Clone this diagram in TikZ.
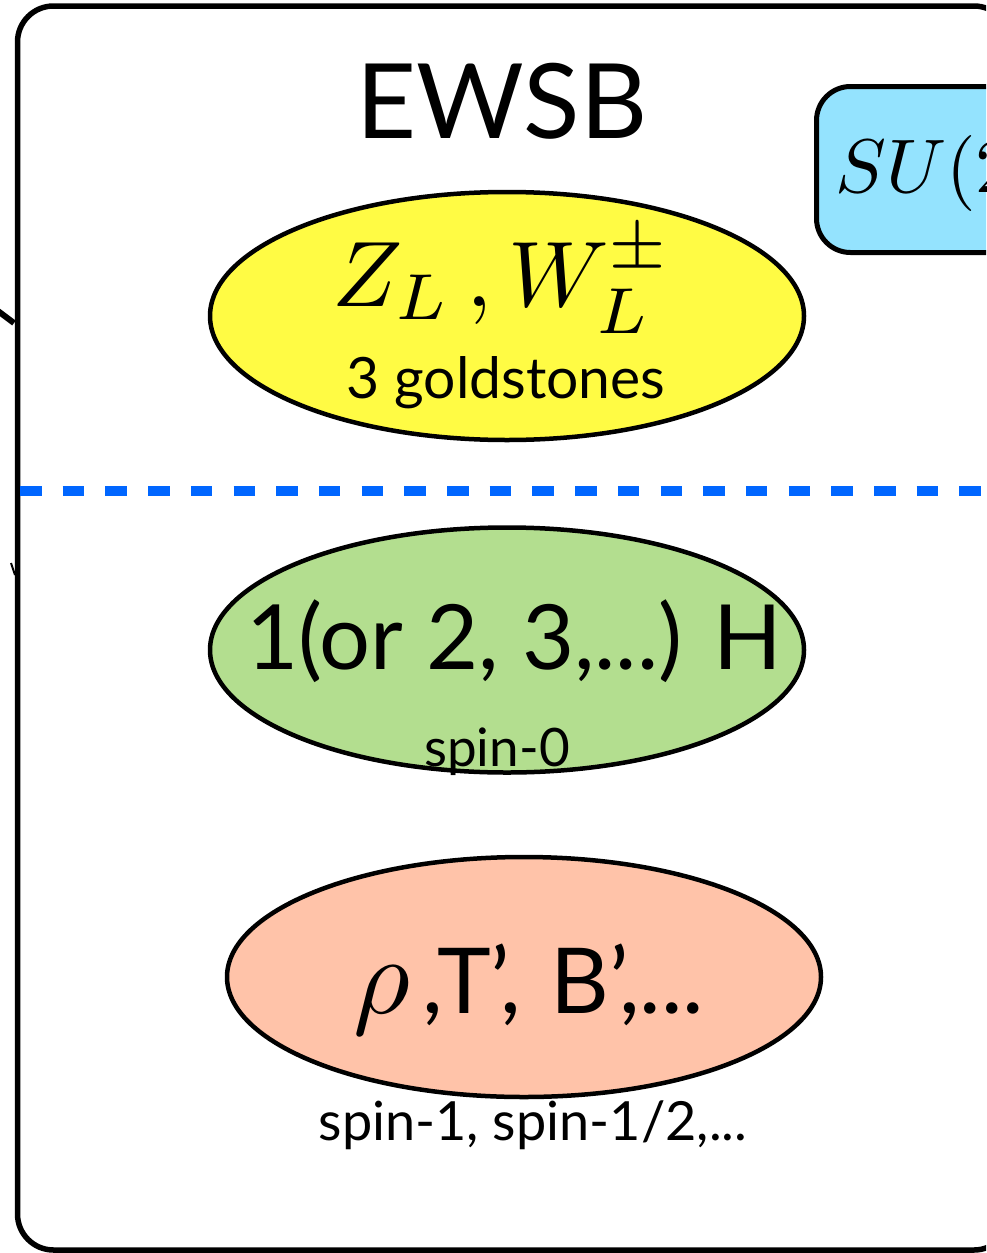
\documentclass[tikz,border=0pt]{standalone}
\usepackage{graphicx}
\usepackage{fontspec}
\setmainfont{Lato}
\usetikzlibrary{shapes.geometric}
\definecolor{ewyellow}{HTML}{FFFB44}
\definecolor{ewgreen}{HTML}{B3DE8F}
\definecolor{ewsalmon}{HTML}{FFC3A9}
\definecolor{ewcyan}{HTML}{94E3FE}
\definecolor{ewblue}{HTML}{0066FF}
\tikzset{
  blob/.style={ellipse, draw=black, line width=4.5pt, inner sep=0pt},
  symbox/.style={draw=black, line width=5pt, fill=ewcyan, rounded corners=34pt, inner sep=0pt},
  frame/.style={draw=black, line width=5.5pt, rounded corners=36pt},
  sep/.style={draw=ewblue, line width=10pt, dash pattern=on 21.5pt off 21.2pt},
  txt/.style={inner sep=0pt, anchor=base}
}
\begin{document}
\begin{tikzpicture}[x=1pt,y=-1pt]
\useasboundingbox (0,0) rectangle (986,1253);
\clip (0,0) rectangle (986,1253);
% outer frame
\path[frame] (17.5,6) rectangle (1010,1250);
% fragments of outside connectors
\draw[line width=6pt] (-10,305) -- (14,323);
\draw[line width=2pt] (11,563) -- (15,575);
% symmetry box (cut off)
\node (sym) [symbox, anchor=north west, minimum width=400pt, minimum height=166pt] at (814,84) {};
\node (symtxt) [inner sep=0pt, anchor=base west] at (835,192) {\scalebox{7.6}{$SU(2)_L\times U(1)_Y$}};
% title
\node (title) [txt] at (502,138) {\fontsize{104}{110}\selectfont EWSB};
% goldstones
\node (gold) [blob, fill=ewyellow, minimum width=594pt, minimum height=248pt] at (507,316) {};
\node (goldmath) [txt] at (502,306) {\scalebox{9.3}{$Z_L\,,W_L^{\pm}$}};
\node (goldlbl) [txt] at (506,398) {\fontsize{57}{60}\selectfont 3 goldstones};
% separator
\path[sep] (20,491) -- (1000,491);
% higgs
\node (higgs) [blob, fill=ewgreen, minimum width=594pt, minimum height=245pt] at (507,650) {};
\node (higgslbl) [txt] at (514,669) {\fontsize{90}{90}\selectfont 1(or 2, 3,...) H};
\node (higgsspin) [txt] at (497,766) {\fontsize{53}{56}\selectfont spin-0};
% resonances
\node (res) [blob, fill=ewsalmon, minimum width=594pt, minimum height=240pt] at (524,977) {};
\node (reslbl) [txt] at (529,1013) {\fontsize{91}{92}\selectfont \scalebox{11}{\normalsize$\rho$}\hspace{12pt},T’,\hspace{6pt} B’,...};
\node (resspin) [txt] at (533,1140) {\fontsize{54}{58}\selectfont spin-1, spin-1/2,...};
\end{tikzpicture}
\end{document}
